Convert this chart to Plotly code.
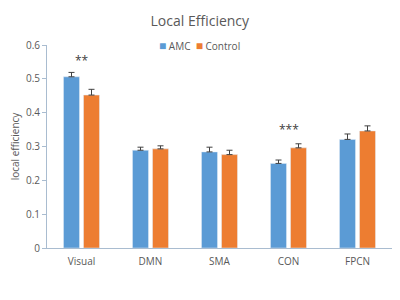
import plotly.graph_objects as go

categories = ["Visual", "DMN", "SMA", "CON", "FPCN"]
amc = [0.506, 0.289, 0.284, 0.250, 0.321]
amc_err = [0.013, 0.009, 0.014, 0.010, 0.016]
control = [0.452, 0.293, 0.276, 0.296, 0.346]
control_err = [0.017, 0.009, 0.013, 0.012, 0.015]
sig_labels = ["**", "", "", "***", ""]
sig_heights = [0.555, None, None, 0.350, None]
y_ticks = [0, 0.1, 0.2, 0.3, 0.4, 0.5, 0.6]

font_fam = "Open Sans, Noto Sans, sans-serif"
gray = "#595959"
blue = "#5B9BD5"
orange = "#ED7D31"

fig = go.Figure()
fig.add_trace(go.Bar(
    name="AMC", x=categories, y=amc, marker_color=blue, showlegend=False,
    error_y=dict(type="data", symmetric=False, array=amc_err,
                 arrayminus=[0]*len(amc), color="#404040", thickness=1, width=3),
))
fig.add_trace(go.Bar(
    name="Control", x=categories, y=control, marker_color=orange, showlegend=False,
    error_y=dict(type="data", symmetric=False, array=control_err,
                 arrayminus=[0]*len(control), color="#404040", thickness=1, width=3),
))

for c, s, h in zip(categories, sig_labels, sig_heights):
    if s:
        fig.add_annotation(x=c, y=h, text=s, showarrow=False,
                           font=dict(size=12, color="#404040", family=font_fam))

# legend drawn as text
fig.add_annotation(
    xref="paper", yref="paper", x=0.443, y=1.0, xanchor="center", yanchor="middle",
    showarrow=False,
    text=(f"<span style='color:{blue};font-size:12px'>■</span> AMC  "
          f"<span style='color:{orange};font-size:12px'>■</span> Control"),
    font=dict(size=10, color=gray, family=font_fam),
)

fig.update_layout(
    width=400, height=300,
    margin=dict(l=39, r=16, t=37, b=60, autoexpand=False),
    paper_bgcolor="white", plot_bgcolor="white",
    barmode="group", bargap=0.42, bargroupgap=0.2,
    title=dict(text="Local Efficiency", x=0.443, xref="paper", xanchor="center",
               y=0.957, yref="container", yanchor="middle",
               font=dict(size=14, color=gray, family=font_fam)),
    font=dict(family=font_fam, color=gray),
)
fig.update_yaxes(range=[0, 0.6], tickvals=y_ticks, ticktext=[str(v) for v in y_ticks],
                 showgrid=False, zeroline=False, showline=True, linecolor="#A9BCD0",
                 linewidth=1, ticks="outside", ticklen=4, tickcolor="#A9BCD0",
                 tickfont=dict(size=10, color=gray),
                 title=dict(text="local efficiency", font=dict(size=10, color=gray), standoff=7))
fig.update_xaxes(showgrid=False, showline=True, linecolor="#A9BCD0", linewidth=1,
                 ticks="", tickangle=0, ticklabelstandoff=4, tickfont=dict(size=10, color=gray))

fig.write_html("out.html")
